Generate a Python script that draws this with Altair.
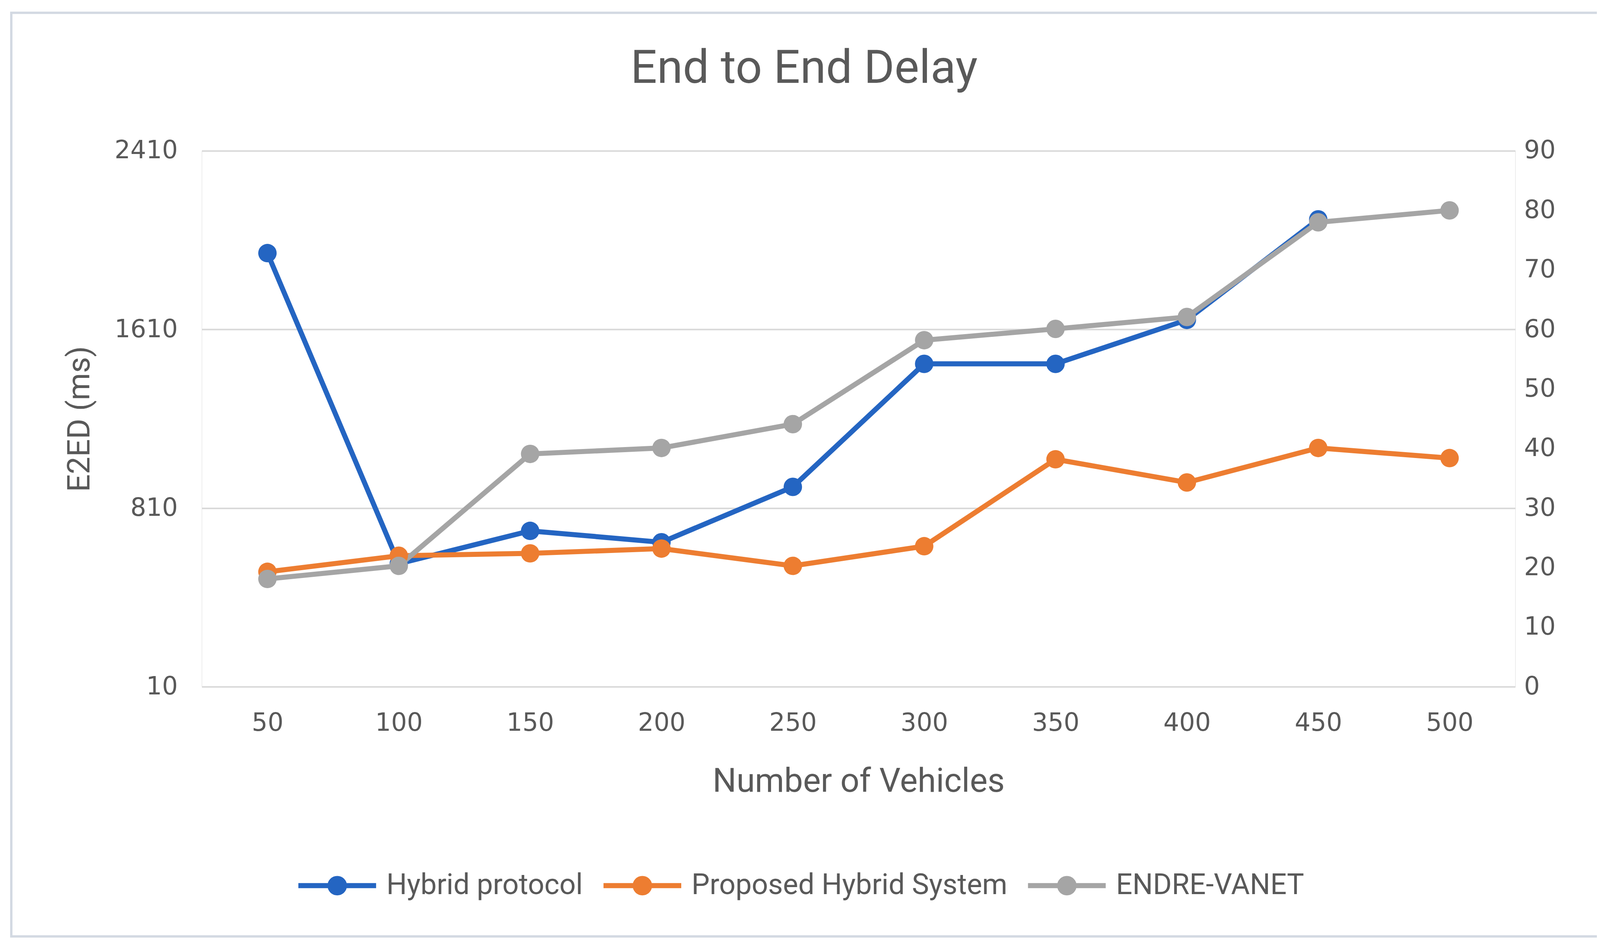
import altair as alt
import pandas as pd

# ---- data ----
vehicles = ["50", "100", "150", "200", "250", "300", "350", "400", "450", "500"]
hybrid_protocol = [1952, 561, 708, 657, 905, 1456, 1456, 1653, 2103, None]   # left axis (ms)
proposed_hybrid = [19.3, 22.0, 22.4, 23.2, 20.3, 23.6, 38.2, 34.3, 40.1, 38.4]  # right axis
endre_vanet = [18.1, 20.3, 39.1, 40.1, 44.1, 58.2, 60.1, 62.1, 78.0, 80.0]      # right axis

series_names = ["Hybrid protocol", "Proposed Hybrid System", "ENDRE-VANET"]
series_colors = ["#2465C2", "#ED7D31", "#A5A5A5"]
left_ticks = [10, 810, 1610, 2410]
right_ticks = [0, 10, 20, 30, 40, 50, 60, 70, 80, 90]

rows = []
for name, vals in zip(series_names, [hybrid_protocol, proposed_hybrid, endre_vanet]):
    for v, y in zip(vehicles, vals):
        if y is not None:
            rows.append({"vehicles": v, "series": name, "value": y})
df = pd.DataFrame(rows)

GREY = "#595959"
FONT = "Roboto"
TICKFONT = "DejaVu Sans"
LW = 13
PT = 2250

legend_path = ("M-1,0L1,0"
               "M-0.065,0A0.065,0.065,0,1,0,0.065,0A0.065,0.065,0,1,0,-0.065,0"
               "M-0.185,0A0.185,0.185,0,1,0,0.185,0A0.185,0.185,0,1,0,-0.185,0")

color_scale = alt.Scale(domain=series_names, range=series_colors)
legend = alt.Legend(
    title=None, orient="none", legendX=242, legendY=1783, direction="horizontal",
    symbolType=legend_path, symbolSize=40000, symbolStrokeWidth=LW,
    labelFont=FONT, labelFontSize=74, labelColor=GREY, labelOffset=20,
    columnPadding=26, padding=0, labelLimit=2000,
)

x_enc = alt.X(
    "vehicles:O", sort=vehicles, scale=alt.Scale(type="point", padding=0.5),
    axis=alt.Axis(title="Number of Vehicles", titleFont=FONT, titleFontSize=86,
                  titleFontWeight="normal", titleColor=GREY, titlePadding=76,
                  labelFont=TICKFONT, labelFontSize=64, labelColor=GREY,
                  labelAngle=0, labelPadding=62, ticks=False, domain=False, grid=False),
)

base = alt.Chart(df)

# Left axis layer: Hybrid protocol
left_y = alt.Y(
    "value:Q", scale=alt.Scale(domain=[10, 2410], nice=False, zero=False),
    axis=alt.Axis(orient="left", values=left_ticks, format="d", labelLimit=1000,
                  title="E2ED (ms)",
                  titleFont=FONT, titleFontSize=80, titleFontWeight="normal",
                  titleColor=GREY, titlePadding=72,
                  labelFont=TICKFONT, labelFontSize=64, labelColor=GREY,
                  labelPadding=62, ticks=False, domain=False, grid=True,
                  gridColor="#D9D9D9", gridWidth=4),
)
left_data = base.transform_filter(alt.datum.series == "Hybrid protocol")
left_line = left_data.mark_line(strokeWidth=LW).encode(
    x=x_enc, y=left_y, color=alt.Color("series:N", scale=color_scale, legend=legend))
left_pts = left_data.mark_point(filled=True, size=PT, opacity=1).encode(
    x=x_enc, y=left_y, color=alt.Color("series:N", scale=color_scale, legend=None))
left_layer = alt.layer(left_line, left_pts)

# Right axis layer: Proposed Hybrid System, ENDRE-VANET
right_y = alt.Y(
    "value:Q", scale=alt.Scale(domain=[0, 90], nice=False, zero=False),
    axis=alt.Axis(orient="right", values=right_ticks, format="d", title=None,
                  labelFont=TICKFONT, labelFontSize=64, labelColor=GREY,
                  labelPadding=22, ticks=False, domain=False, grid=False),
)
right_data = base.transform_filter(alt.datum.series != "Hybrid protocol")
right_line = right_data.mark_line(strokeWidth=LW).encode(
    x=x_enc, y=right_y,
    color=alt.Color("series:N", scale=color_scale, legend=legend))
right_pts = right_data.mark_point(filled=True, size=PT, opacity=1).encode(
    x=x_enc, y=right_y, color=alt.Color("series:N", scale=color_scale, legend=None))
right_layer = alt.layer(right_line, right_pts)

# Chart-area border (decoration)
border = alt.Chart(pd.DataFrame({"a": [0]})).mark_rect(
    fill=None, stroke="#D3D9E2", strokeWidth=6
).encode(x=alt.value(-490), x2=alt.value(3596), y=alt.value(-355), y2=alt.value(2020))

chart = alt.layer(left_layer, right_layer, border).resolve_scale(
    y="independent"
).properties(
    width=3379, height=1378,
    autosize=alt.AutoSizeParams(type="none"),
    padding={"left": 511, "top": 374, "right": 210, "bottom": 640},
    title=alt.TitleParams("End to End Delay", font=FONT, fontSize=120,
                          fontWeight="normal", color=GREY, anchor="middle",
                          frame="group", offset=-208, dx=-140),
).configure_view(stroke=None).configure(background="white")

chart.save("out.html", embed_options={"renderer": "svg", "actions": False})
